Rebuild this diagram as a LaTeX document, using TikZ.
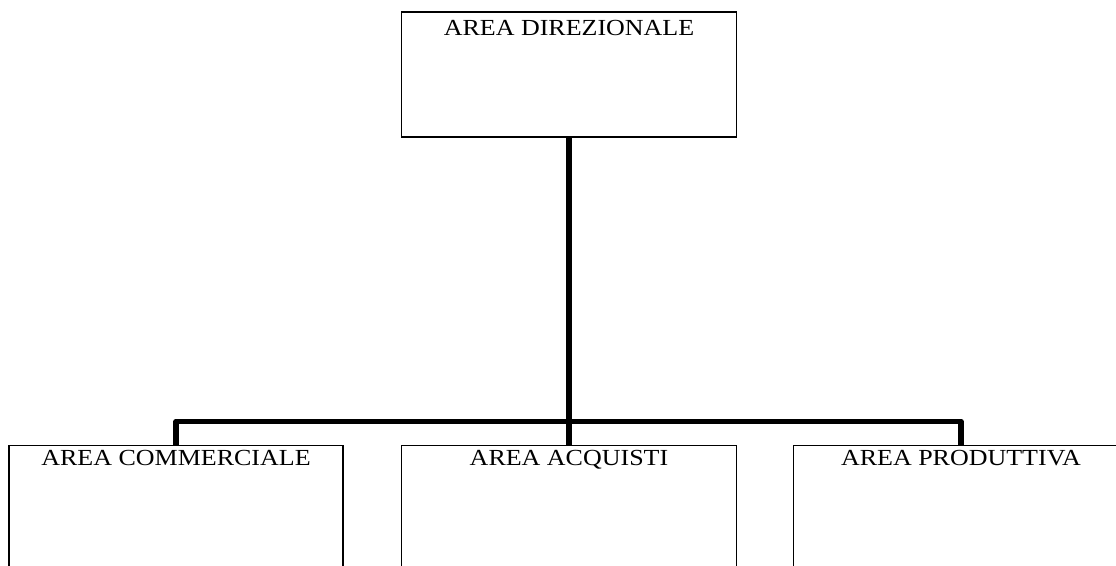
\documentclass[tikz,border=0pt]{standalone}
\usepackage{fontspec}
\setmainfont{Liberation Serif}
\usetikzlibrary{positioning}
\newcommand{\areatext}[1]{\scalebox{1.13}[1]{\fontsize{23}{27}\selectfont #1}}

\begin{document}
\begin{tikzpicture}[x=1pt, y=-1pt,
    area/.style={draw, line width=1.8pt, minimum width=335pt, minimum height=125pt, inner sep=0pt},
    trunk/.style={line width=5.5pt, line join=round}]
    \clip (0,0) rectangle (1116,565);

    % boxes
    \node[area] (dir) at (569, 74.5) {};
    \node[area, minimum height=160pt, minimum width=334pt] (com) at (176, 525.5) {};
    \node[area, minimum height=160pt] (acq) at (569, 525.5) {};
    \node[area, minimum height=160pt] (prod) at (961, 525.5) {};

    % labels
    \node[anchor=base] (dirlabel) at ([yshift=-24pt]dir.north) {\areatext{AREA DIREZIONALE}};
    \node[anchor=base] (comlabel) at ([yshift=-21pt]com.north) {\areatext{AREA COMMERCIALE}};
    \node[anchor=base] (acqlabel) at ([yshift=-21pt]acq.north) {\areatext{AREA ACQUISTI}};
    \node[anchor=base] (prodlabel) at ([yshift=-21pt]prod.north) {\areatext{AREA PRODUTTIVA}};

    % connectors
    \coordinate (bus) at (569, 421.5);
    \draw[trunk] (dir.south) -- (acq.north);
    \draw[trunk] (com.north) -- (com.north |- bus) -| (prod.north);
\end{tikzpicture}
\end{document}
